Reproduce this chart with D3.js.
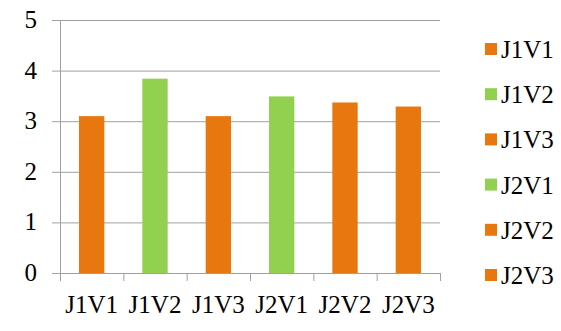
<!DOCTYPE html>
<html><head><meta charset="utf-8">
<script src="https://cdn.jsdelivr.net/npm/d3@7"></script>
<style>body{margin:0;background:#fff}
#c text{font-family:"Liberation Serif" !important;font-size:25px;fill:#000}</style>
</head><body>
<svg id="c" width="561" height="331"></svg>
<script>
const categories = ["J1V1","J1V2","J1V3","J2V1","J2V2","J2V3"];
const values = [3.1, 3.84, 3.1, 3.49, 3.37, 3.29];
const colors = ["#E8770F","#92D050","#E8770F","#92D050","#E8770F","#E8770F"];
const yTicks = [0,1,2,3,4,5];

const svg = d3.select("#c");
const x = d3.scaleBand().domain(categories).range([60,440]).paddingInner(0.6).paddingOuter(0.3);
const xb = d3.scaleBand().domain(categories).range([60,440]);
const y = d3.scaleLinear().domain([0,5]).range([273,20]);

svg.append("g").selectAll("line").data(yTicks).join("line")
  .attr("x1",52).attr("x2",440).attr("y1",d=>y(d)+0.5).attr("y2",d=>y(d)+0.5)
  .attr("stroke","#a0a0a0").attr("stroke-width",1);
svg.append("line").attr("x1",60.5).attr("x2",60.5).attr("y1",y(5)).attr("y2",y(0)+8)
  .attr("stroke","#a0a0a0");
const bounds = categories.map(c=>xb(c)).concat([440]);
svg.append("g").selectAll("line").data(bounds.slice(1)).join("line")
  .attr("x1",d=>d+0.5).attr("x2",d=>d+0.5).attr("y1",y(0)).attr("y2",y(0)+8)
  .attr("stroke","#a0a0a0");
svg.append("g").selectAll("rect").data(categories).join("rect")
  .attr("x",c=>x(c)).attr("width",x.bandwidth())
  .attr("y",(c,i)=>y(values[i])).attr("height",(c,i)=>y(0)-y(values[i]))
  .attr("fill",(c,i)=>colors[i]);
svg.append("g").selectAll("text").data(yTicks).join("text")
  .attr("x",37).attr("y",d=>y(d)+8).attr("text-anchor","end")
  .attr("font-family","Liberation Serif").text(d=>d);
svg.append("g").selectAll("text").data(categories).join("text")
  .attr("x",c=>xb(c)+xb.bandwidth()/2).attr("y",313).attr("text-anchor","middle")
  .attr("font-family","Liberation Serif").text(c=>c);
const lg = svg.append("g").selectAll("g").data(categories).join("g")
  .attr("transform",(c,i)=>`translate(485,${58+i*45.2})`);
lg.append("rect").attr("x",0).attr("y",-15).attr("width",12).attr("height",12).attr("fill",(c,i)=>colors[i]);
lg.append("text").attr("x",16).attr("y",0).attr("font-family","Liberation Serif").text(c=>c);
</script>
</body></html>
